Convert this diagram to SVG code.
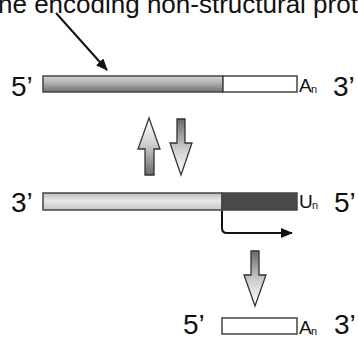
<svg xmlns="http://www.w3.org/2000/svg" width="358" height="338" viewBox="0 0 358 338">
<style>
text{font-family:"Liberation Sans",Arial,sans-serif;fill:#111}
.big{font-size:28px}
.sub{font-size:19px}
.subn{font-size:11px}
.bar{stroke:#444;stroke-width:1.5}
.blk{stroke:#333;stroke-width:1.3;stroke-linejoin:miter}
.ln{fill:none;stroke:#111;stroke-width:2}
</style>
<defs>
<linearGradient id="gTop" x1="0" y1="0" x2="0" y2="1">
<stop offset="0" stop-color="#d4d4d4"/><stop offset="0.4" stop-color="#b5b5b5"/><stop offset="1" stop-color="#6e6e6e"/>
</linearGradient>
<linearGradient id="gMid" x1="0" y1="0" x2="0" y2="1">
<stop offset="0" stop-color="#bdbdbd"/><stop offset="0.45" stop-color="#e8e8e8"/><stop offset="1" stop-color="#c4c4c4"/>
</linearGradient>
<linearGradient id="gUp" x1="0" y1="0" x2="0" y2="1">
<stop offset="0" stop-color="#ffffff"/><stop offset="0.45" stop-color="#d0d0d0"/><stop offset="1" stop-color="#6a6a6a"/>
</linearGradient>
<linearGradient id="gDown" x1="0" y1="0" x2="0" y2="1">
<stop offset="0" stop-color="#6a6a6a"/><stop offset="0.55" stop-color="#d0d0d0"/><stop offset="1" stop-color="#ffffff"/>
</linearGradient>
<marker id="ah" markerWidth="12" markerHeight="10" refX="11" refY="5" orient="auto" markerUnits="userSpaceOnUse">
<path d="M0,0 L12,5 L0,10 Z" fill="#111"/>
</marker>
</defs>

<text x="-2" y="13" style="font-size:26px">ne encoding non-structural prot</text>

<g id="connectors">
<line class="ln" x1="56" y1="13" x2="107" y2="70" marker-end="url(#ah)"/>
<path class="ln" d="M222,210 L222,228 Q222,233 227,233 L292,233" marker-end="url(#ah)"/>
</g>

<g id="strand1">
<rect class="bar" x="43" y="76" width="180" height="16" fill="url(#gTop)"/>
<rect class="bar" x="223" y="76" width="74" height="16" fill="#fff"/>
<text class="big" x="11" y="96">5’</text>
<text class="sub" x="299" y="92">A</text><text class="subn" x="311" y="93">n</text>
<text class="big" x="333" y="96">3’</text>
</g>

<g id="arrows12">
<path class="blk" fill="url(#gUp)" d="M149,118 L160,149 L154,149 L154,175 L145,175 L145,149 L138,149 Z"/>
<path class="blk" fill="url(#gDown)" d="M177,119 L185,119 L185,143 L192,143 L181,175 L170,143 L177,143 Z"/>
</g>

<g id="strand2">
<rect class="bar" x="43" y="193" width="179" height="17" fill="url(#gMid)"/>
<rect class="bar" x="222" y="193" width="75" height="17" fill="#4a4a4a"/>
<text class="big" x="11" y="212">3’</text>
<text class="sub" x="299" y="208">U</text><text class="subn" x="312" y="209">n</text>
<text class="big" x="334" y="212">5’</text>
</g>

<g id="arrow3">
<path class="blk" fill="url(#gDown)" d="M251,251 L259,251 L259,275 L266,275 L255,306 L244,275 L251,275 Z"/>
</g>

<g id="strand3">
<rect class="bar" x="222" y="318" width="75" height="16" fill="#fff"/>
<text class="big" x="183" y="334">5’</text>
<text class="sub" x="299" y="334">A</text><text class="subn" x="311" y="335">n</text>
<text class="big" x="334" y="334">3’</text>
</g>
</svg>
